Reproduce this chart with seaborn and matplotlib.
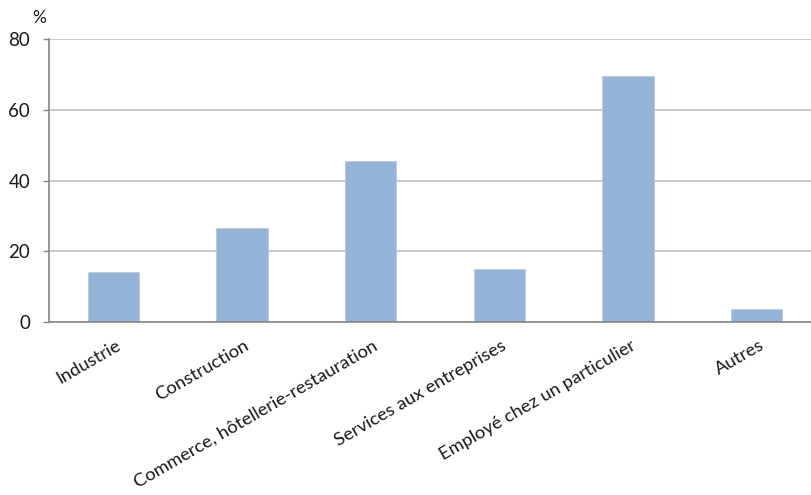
import matplotlib
matplotlib.use("Agg")
import matplotlib.pyplot as plt
import numpy as np
import pandas as pd
import seaborn as sns

categories = [
    "Industrie",
    "Construction",
    "Commerce, hôtellerie-restauration",
    "Services aux entreprises",
    "Employé chez un particulier",
    "Autres",
]
values = [14.2, 26.6, 45.5, 15.1, 69.6, 3.7]
y_ticks = [0, 20, 40, 60, 80]

sns.set_theme(style="white")
plt.rcParams["font.family"] = ["Lato", "DejaVu Sans"]

df = pd.DataFrame({"secteur": categories, "part": values})

fig = plt.figure(figsize=(8.12, 4.95), dpi=100)
# plot area runs slightly past the right edge of the figure
ax = fig.add_axes([49 / 812, (495 - 322) / 495, (821 - 49) / 812, (322 - 39.3) / 495])

sns.barplot(data=df, x="secteur", y="part", order=categories, color="#95B3D7",
            saturation=1, width=0.4, edgecolor="#B8CCE4", linewidth=0.6, ax=ax, zorder=3)

ax.set_xlim(-0.5, len(categories) - 0.5)
ax.set_ylim(0, 80)
ax.set_yticks(y_ticks)
ax.set_yticklabels([str(v) for v in y_ticks], fontsize=13.5, color="#1a1a1a")
ax.yaxis.grid(True, color="#BFBFBF", linewidth=1.2, zorder=0)
ax.set_axisbelow(True)

# category labels at bar centres, boundary ticks between categories
ax.set_xticks(np.arange(len(categories)))
ax.set_xticklabels(categories, rotation=30, ha="right", va="top",
                   rotation_mode="anchor", fontsize=13.2, color="#1a1a1a")
ax.set_xticks(np.arange(-0.5, len(categories) + 0.5, 1.0), minor=True)
ax.tick_params(axis="x", which="major", length=0, pad=11)
ax.tick_params(axis="x", which="minor", length=5, width=1, color="#868686", direction="out")
ax.tick_params(axis="y", which="major", length=4.5, width=1, color="#868686",
               direction="out", pad=9, left=True)
for lbl in ax.get_xticklabels():
    lbl.set_transform(lbl.get_transform() + matplotlib.transforms.ScaledTranslation(2 / 100, 0, fig.dpi_scale_trans))

for side in ["top", "right"]:
    ax.spines[side].set_visible(False)
for side in ["left", "bottom"]:
    ax.spines[side].set_color("#868686")
    ax.spines[side].set_linewidth(1.2)
    ax.spines[side].set_zorder(4)

ax.set_xlabel("")
ax.set_ylabel("")
fig.text(32 / 812, 1 - 18 / 495, "%", fontsize=12.5, ha="left", va="center", color="#1a1a1a")

fig.savefig("out.png", dpi=100)
